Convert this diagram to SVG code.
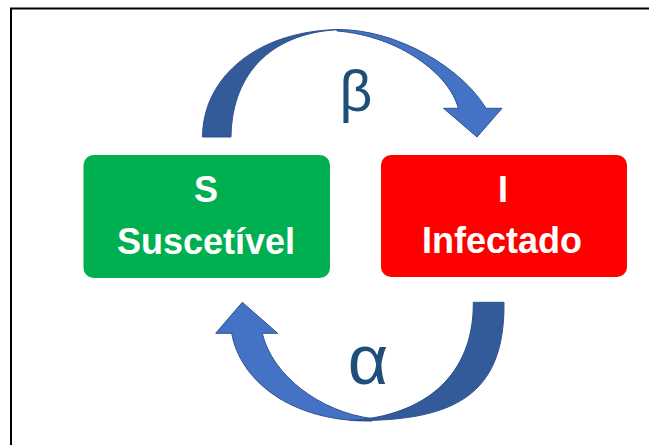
<svg xmlns="http://www.w3.org/2000/svg" width="649" height="445" viewBox="0 0 649 445">
<style>
.lbl{font-family:"Liberation Sans",Arial,sans-serif;font-weight:bold;font-size:36px;fill:#FFFFFF;text-anchor:middle}
.greek{font-family:"Liberation Sans",Arial,sans-serif;fill:#1F4E79;text-anchor:middle}
.dark{fill:#335A99;stroke:#2F528F;stroke-width:1}
.light{fill:#4472C4;stroke:#2F528F;stroke-width:1}
</style>
<rect x="11" y="8.5" width="700" height="500" fill="#FFFFFF" stroke="#000000" stroke-width="2"/>
<g id="connectors">
  <g id="beta-arrow">
    <path class="light" d="M337,29.5 C397,29 462,68 486,108.3 L502,108.3 L477,137 L443.5,108.3 L458.3,108.3 C450,75 400,36 337,31 Z"/>
    <path class="dark" d="M202.5,137 C203,75 260,30 341,29.5 C275,32 232,70 231,137 Z"/>
    <text class="greek" x="356" y="111" font-size="57">β</text>
  </g>
  <g id="alpha-arrow">
    <path class="light" d="M372,421 C290,422 240,380 231.7,333.3 L215.7,333.3 L242.3,302.3 L277.7,333.3 L262.3,333.3 C272,375 320,412 372,418.5 Z"/>
    <path class="dark" d="M504,302.3 C505,395 455,422 350,420.5 C425,416 474,375 473.3,302.3 Z"/>
    <text class="greek" x="368" y="384" font-size="70">α</text>
  </g>
</g>
<g id="node-S">
  <rect x="83.5" y="155" width="246.5" height="123" rx="10" ry="10" fill="#00B050"/>
  <text class="lbl" x="206" y="202">S</text>
  <text class="lbl" x="206" y="254">Suscetível</text>
</g>
<g id="node-I">
  <rect x="381" y="155" width="246" height="122" rx="10" ry="10" fill="#FF0000"/>
  <text class="lbl" x="503" y="202">I</text>
  <text class="lbl" x="502" y="253">Infectado</text>
</g>
</svg>
